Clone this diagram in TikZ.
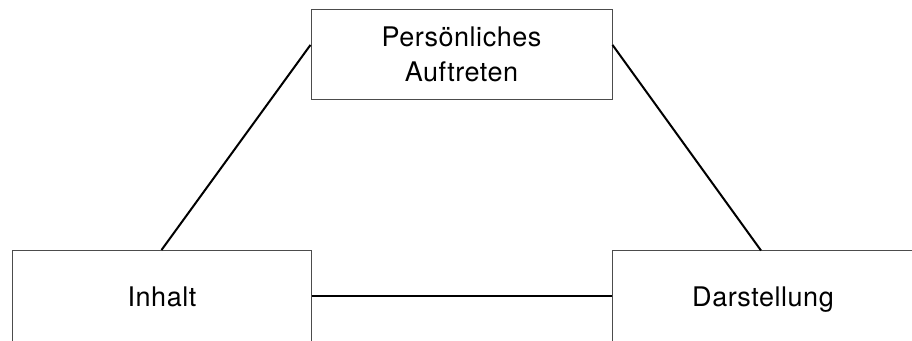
\documentclass[tikz,border=0pt]{standalone}
\usepackage{fontspec}
\setmainfont{TeX Gyre Heros}[LetterSpace=2]
\usetikzlibrary{calc}
\begin{document}
\begin{tikzpicture}[x=1pt,y=-1pt,
  lbl/.style={font=\fontsize{27}{35}\selectfont, inner sep=0pt, align=center},
  box/.style={draw=black!70, line width=1pt, inner sep=0pt},
  conn/.style={draw=black, line width=2pt}]
\clip (0,0) rectangle (912,340);
\useasboundingbox (0,0) rectangle (912,340);
\node[box, lbl, minimum width=301pt, minimum height=90pt] (top) at (461.5,54) {Persönliches\\Auftreten};
\node[box, minimum width=299pt, minimum height=92pt] (left) at (161.5,296.5) {};
\node[box, minimum width=302pt, minimum height=92pt] (right) at (763,296.5) {};
\node[lbl, anchor=base] (ltext) at (162,306) {Inhalt};
\node[lbl, anchor=base] (rtext) at (763,306) {Darstellung};
\coordinate (tl) at ($(top.north west)!0.4!(top.south west)$);
\coordinate (tr) at ($(top.north east)!0.4!(top.south east)$);
\coordinate (rt) at (761,250.5);
\draw[conn] (tl) -- (left.north);
\draw[conn] (tr) -- (rt);
\draw[conn] (left.east |- 0,296) -- (right.west |- 0,296);
\end{tikzpicture}
\end{document}
